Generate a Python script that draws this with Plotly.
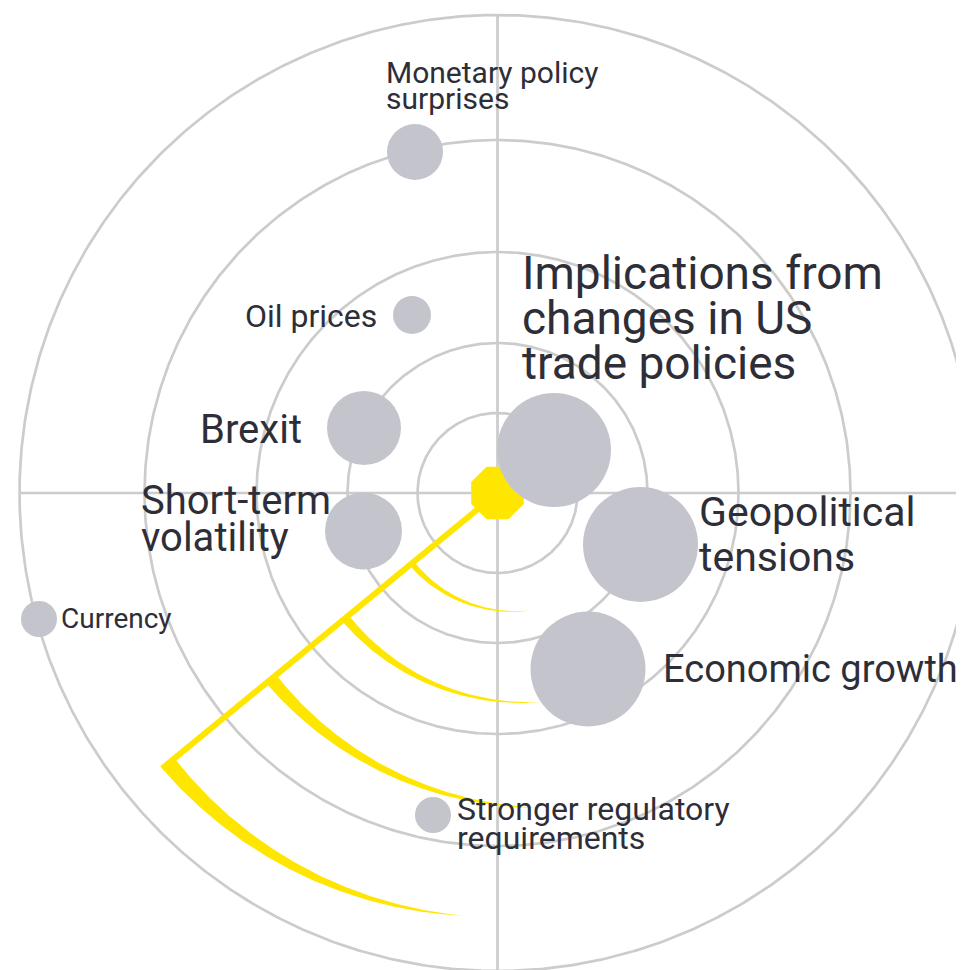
import numpy as np
import plotly.graph_objects as go

# ---------------- data ----------------
risks = [
    "Implications from changes in US trade policies",
    "Geopolitical tensions",
    "Economic growth",
    "Brexit",
    "Short-term volatility",
    "Monetary policy surprises",
    "Oil prices",
    "Stronger regulatory requirements",
    "Currency",
]
# position on the radar (centre = 0,0) and bubble weight (diameter)
risk_x = [56.5, 143.0, 90.5, -133.5, -134.0, -82.5, -85.5, -64.5, -458.5]
risk_y = [43.0, -51.5, -176.0, 65.0, -38.0, 341.0, 178.0, -322.0, -126.0]
risk_weight = [114, 115, 115, 74, 77, 56, 38, 36, 36]

label_lines = [
    ["Implications from", "changes in US", "trade policies"],
    ["Geopolitical", "tensions"],
    ["Economic growth"],
    ["Brexit"],
    ["Short-term", "volatility"],
    ["Monetary policy", "surprises"],
    ["Oil prices"],
    ["Stronger regulatory", "requirements"],
    ["Currency"],
]

ring_radii = [80, 150, 241, 353, 478]

# ---------------- styling / layout ----------------
TEXT = "#2e2e38"
BUBBLE = "#c4c4cd"
GRID = "#cccccc"
YELLOW = "#ffe600"
FONT = "Roboto"

# label placement: (x_left, y of first line, font size, line spacing)
label_style = [
    (22.0, 220.0, 46, 45.0),
    (199.0, -18.5, 41, 45.5),
    (163.0, -175.5, 38, 0),
    (-300.0, 64.0, 40, 0),
    (-358.5, -7.0, 40, 37.0),
    (-113.5, 421.0, 30, 26.5),
    (-254.5, 177.0, 32, 0),
    (-42.5, -315.5, 32, 29.0),
    (-438.5, -125.0, 28, 0),
]

# yellow "sweep" decoration
sweep_angle = 219.4
sweep_length = 434
arc_r_start = [111, 197, 293, 426]
arc_r_end = [122, 214, 318, 424]
arc_end_angle = [285.0, 282.5, 278.0, 265.5]
arc_half_width = [3.0, 4.5, 6.5, 8.0]

# page body has an 8px margin: shift the axis window so the radar centre
# lands where it sits in the reference
PAGE_OFF = 8
CX, CY = 497.5, 493.0
W, H = 964, 970

fig = go.Figure()

# rings
th = np.linspace(0, 2 * np.pi, 721)
for r in ring_radii:
    fig.add_trace(go.Scatter(x=r * np.cos(th), y=r * np.sin(th), mode="lines",
                             line=dict(color=GRID, width=2.7), hoverinfo="skip"))
R = ring_radii[-1]
fig.add_trace(go.Scatter(x=[-R, R], y=[0, 0], mode="lines",
                         line=dict(color=GRID, width=2.7), hoverinfo="skip"))
fig.add_trace(go.Scatter(x=[0, 0], y=[-R, R], mode="lines",
                         line=dict(color=GRID, width=2.7), hoverinfo="skip"))

# sweep arcs
a0 = np.deg2rad(sweep_angle)
for r0, r1, ae, hw in zip(arc_r_start, arc_r_end, arc_end_angle, arc_half_width):
    t = np.linspace(0, 1, 200)
    ang = a0 + (np.deg2rad(ae) - a0) * t
    rm = r0 + (r1 - r0) * t ** 2
    h = hw * (1 - t)
    ro = rm + h
    ri = rm - h
    xs = np.concatenate([ro * np.cos(ang), (ri * np.cos(ang))[::-1]])
    ys = np.concatenate([ro * np.sin(ang), (ri * np.sin(ang))[::-1]])
    fig.add_trace(go.Scatter(x=xs, y=ys, mode="lines", fill="toself",
                             fillcolor=YELLOW, line=dict(width=0, color=YELLOW),
                             hoverinfo="skip"))

fig.add_trace(go.Scatter(x=[0, sweep_length * np.cos(a0)], y=[0, sweep_length * np.sin(a0)],
                         mode="lines", line=dict(color=YELLOW, width=6), hoverinfo="skip"))
fig.add_trace(go.Scatter(x=[0], y=[0], mode="markers",
                         marker=dict(symbol="octagon", size=57, color=YELLOW, line=dict(width=0)),
                         hoverinfo="skip"))

# bubbles
fig.add_trace(go.Scatter(x=risk_x, y=risk_y, mode="markers", text=risks,
                         marker=dict(size=risk_weight, sizemode="diameter", color=BUBBLE,
                                     opacity=1, line=dict(width=0)),
                         hovertemplate="%{text}<extra></extra>"))

# labels
annotations = []
for lines, (lx, ly, fs, sp) in zip(label_lines, label_style):
    for i, line in enumerate(lines):
        annotations.append(dict(x=lx, y=ly - i * sp, xref="x", yref="y", text=line,
                                showarrow=False, xanchor="left", yanchor="middle",
                                font=dict(family=FONT, size=fs, color=TEXT)))

x0 = -(CX - PAGE_OFF)
y1 = CY - PAGE_OFF
fig.update_layout(
    width=W, height=H,
    margin=dict(l=0, r=0, t=0, b=0),
    paper_bgcolor="white", plot_bgcolor="white",
    showlegend=False,
    annotations=annotations,
    xaxis=dict(range=[x0, x0 + W], visible=False, fixedrange=True),
    yaxis=dict(range=[y1 - H, y1], visible=False, fixedrange=True),
)

fig.write_html("out.html")
